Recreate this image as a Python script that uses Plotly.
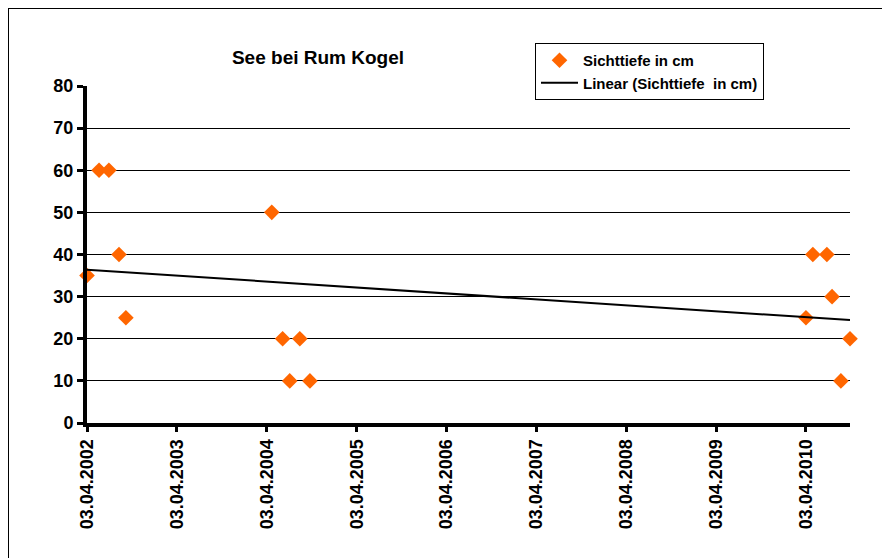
import numpy as np
import pandas as pd
import plotly.graph_objects as go

dates = ["2002-04-03", "2002-05-22", "2002-07-01", "2002-08-11", "2002-09-08",
         "2004-04-23", "2004-06-06", "2004-07-05", "2004-08-15", "2004-09-25",
         "2010-04-03", "2010-05-01", "2010-06-27", "2010-07-18", "2010-08-23", "2010-09-29"]
sichttiefe = [35, 60, 60, 40, 25,
              50, 20, 10, 20, 10,
              25, 40, 40, 30, 10, 20]
tick_dates = ["2002-04-03", "2003-04-03", "2004-04-03", "2005-04-03", "2006-04-03",
              "2007-04-03", "2008-04-03", "2009-04-03", "2010-04-03"]
tick_labels = ["03.04.2002", "03.04.2003", "03.04.2004", "03.04.2005", "03.04.2006",
               "03.04.2007", "03.04.2008", "03.04.2009", "03.04.2010"]
y_ticks = [0, 10, 20, 30, 40, 50, 60, 70, 80]

d = pd.to_datetime(dates)
xnum = (d - d[0]).days.values.astype(float)
slope, intercept = np.polyfit(xnum, np.array(sichttiefe, dtype=float), 1)
trend_x = [d[0], d[-1]]
trend_y = [intercept, intercept + slope * xnum[-1]]

W, H = 890, 558
L, T, R, B = 79, 78, 842, 415  # plot area in figure pixels
pw, ph = R - L, B - T

fig = go.Figure()
fig.add_trace(go.Scatter(
    x=d, y=sichttiefe, mode="markers", name="<b>Sichttiefe in cm</b>",
    marker=dict(symbol="diamond", size=12, color="#FF6600"),
    cliponaxis=False,
))
fig.add_trace(go.Scatter(
    x=trend_x, y=trend_y, mode="lines", name="<b>Linear (Sichttiefe  in cm)</b>",
    line=dict(color="black", width=2),
))

font_family = "Liberation Sans, Arial, sans-serif"
fig.update_layout(
    width=W, height=H,
    margin=dict(l=L, r=W - R, t=T, b=H - B, autoexpand=False),
    paper_bgcolor="white", plot_bgcolor="white",
    font=dict(family=font_family, color="black"),
    title=dict(text="<b>See bei Rum Kogel</b>", x=(310 - L) / pw, xref="paper",
               xanchor="center", y=1 - 49 / H, yanchor="middle",
               font=dict(size=19, family=font_family)),
    showlegend=True,
    legend=dict(
        x=(527 - L) / pw, y=(B - 35) / ph, xanchor="left", yanchor="top",
        bordercolor="black", borderwidth=1, bgcolor="white",
        font=dict(size=15, family=font_family),
        tracegroupgap=0, itemwidth=37,
    ),
    xaxis=dict(
        type="date",
        range=[d[0], d[-1]],
        tickvals=pd.to_datetime(tick_dates), ticktext=["<b>%s</b>" % t for t in tick_labels],
        tickangle=-90, tickfont=dict(size=18, family=font_family),
        showgrid=False, showline=True, linecolor="black", linewidth=4,
        ticks="outside", ticklen=5, tickwidth=3, tickcolor="black",
        zeroline=False, automargin=False,
    ),
    yaxis=dict(
        range=[0, 80], tickvals=y_ticks, ticktext=["<b>%d</b>" % v for v in y_ticks],
        tickfont=dict(size=18, family=font_family),
        showgrid=True, gridcolor="black", gridwidth=1,
        showline=True, linecolor="black", linewidth=4,
        ticks="outside", ticklen=6, tickwidth=3, tickcolor="black",
        zeroline=False, automargin=False,
    ),
    shapes=[dict(type="rect", xref="paper", yref="paper",
                 x0=-L / pw, x1=(W - L) / pw,
                 y0=-(H - B) / ph, y1=B / ph,
                 line=dict(color="black", width=2), layer="below")],
)

fig.write_html("out.html")
